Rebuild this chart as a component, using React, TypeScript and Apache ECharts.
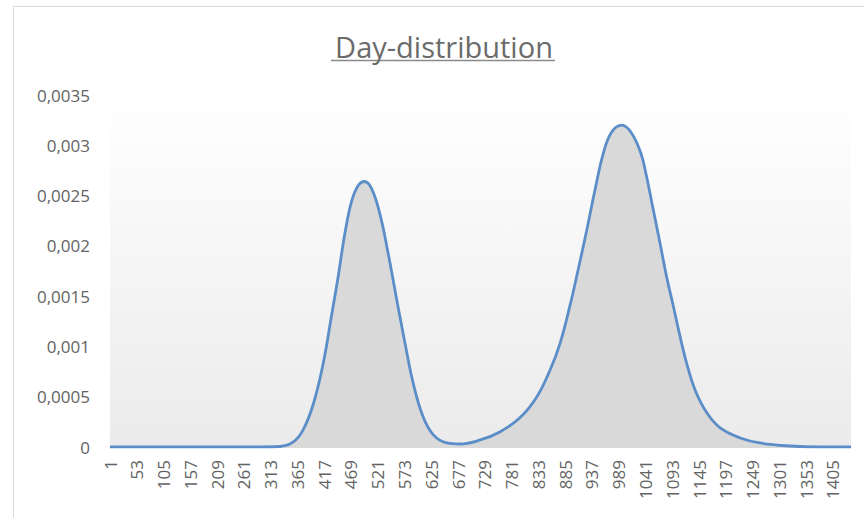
import React, { useEffect, useRef } from "react";
import * as echarts from "echarts";

// Minute of the day (1..1440) and the density read at that minute
const minutes = [
  1, 100, 200, 280, 331, 357, 376, 396, 415, 431, 444, 457, 470, 483, 495, 509,
  525, 541, 558, 574, 590, 609, 629, 655, 681, 720, 758, 797, 830, 856, 875,
  894, 910, 927, 943, 959, 975, 995, 1014, 1032, 1043, 1056, 1069, 1082, 1095,
  1108, 1121, 1137, 1160, 1186, 1225, 1263, 1322, 1380, 1440,
];
const density = [
  0, 0, 0, 0, 0.000005, 0.00005, 0.00017, 0.00043, 0.00083, 0.0013, 0.00169,
  0.00212, 0.00244, 0.0026, 0.00264, 0.00257, 0.00232, 0.00193, 0.00146,
  0.00103, 0.00063, 0.0003, 0.00012, 0.00004, 0.00003, 0.00007, 0.00015,
  0.00029, 0.0005, 0.00077, 0.00103, 0.0014, 0.00176, 0.00216, 0.00256,
  0.00292, 0.00313, 0.0032, 0.00312, 0.00292, 0.00269, 0.00236, 0.00203,
  0.00169, 0.0014, 0.0011, 0.00083, 0.00057, 0.00034, 0.00019, 0.00009,
  0.00004, 0.00001, 0, 0,
];
const title = "Day-distribution";
const xTickStep = 52; // labels at 1, 53, 105, ... 1405
const yMax = 0.0035;
const yStep = 0.0005;

const labelFont = "'Open Sans', sans-serif";

export default function App() {
  const ref = useRef<HTMLDivElement>(null);

  useEffect(() => {
    if (!ref.current) return;
    const chart = echarts.init(ref.current, undefined, { renderer: "svg" });

    // x positions are 0-based minute offsets so ticks fall on 1, 53, 105, ...
    const points = minutes.map((m, i) => [m - 1, density[i]]);

    chart.setOption({
      animation: false,
      backgroundColor: "#ffffff",
      title: {
        text: title,
        left: 439,
        top: 27,
        textAlign: "center",
        textStyle: {
          fontFamily: labelFont,
          fontSize: 29,
          fontWeight: "normal",
          color: "#6b6b6b",
        },
      },
      graphic: [
        {
          type: "rect",
          shape: { x: 13.5, y: 6.5, width: 900, height: 600 },
          style: { fill: "none", stroke: "#d9d9d9", lineWidth: 1 },
          silent: true,
        },
        {
          // title underline
          type: "line",
          shape: { x1: 331, y1: 60.5, x2: 555, y2: 60.5 },
          style: { stroke: "#8a8a8a", lineWidth: 1.6 },
          silent: true,
        },
      ],
      grid: {
        left: 110,
        right: 13,
        top: 95,
        bottom: 71,
        show: true,
        borderWidth: 0,
        backgroundColor: {
          type: "linear",
          x: 0,
          y: 0,
          x2: 0,
          y2: 1,
          colorStops: [
            { offset: 0, color: "#ffffff" },
            { offset: 1, color: "#ebebeb" },
          ],
        },
      },
      xAxis: {
        type: "value",
        min: 0,
        max: 1439,
        interval: xTickStep,
        axisLine: { show: true, lineStyle: { color: "#d9d9d9", width: 1 } },
        axisTick: { show: false },
        splitLine: { show: false },
        axisLabel: {
          rotate: 90,
          margin: 13,
          showMaxLabel: false,
          color: "#636363",
          fontFamily: labelFont,
          fontSize: 17,
          formatter: (v: number) => String(v + 1),
        },
      },
      yAxis: {
        type: "value",
        min: 0,
        max: yMax,
        interval: yStep,
        axisLine: { show: false },
        axisTick: { show: false },
        splitLine: { show: false },
        axisLabel: {
          margin: 20,
          color: "#636363",
          fontFamily: labelFont,
          fontSize: 17,
          formatter: (v: number) =>
            v === 0 ? "0" : String(Number(v.toFixed(4))).replace(".", ","),
        },
      },
      series: [
        {
          type: "line",
          data: points,
          smooth: 0.4,
          symbol: "none",
          lineStyle: { color: "#5b8ec8", width: 2.8 },
          areaStyle: { color: "#d9d9d9", opacity: 1 },
        },
      ],
    });

    return () => chart.dispose();
  }, []);

  return (
    <div
      ref={ref}
      style={{ position: "fixed", left: 0, top: 0, width: 864, height: 518 }}
    />
  );
}
